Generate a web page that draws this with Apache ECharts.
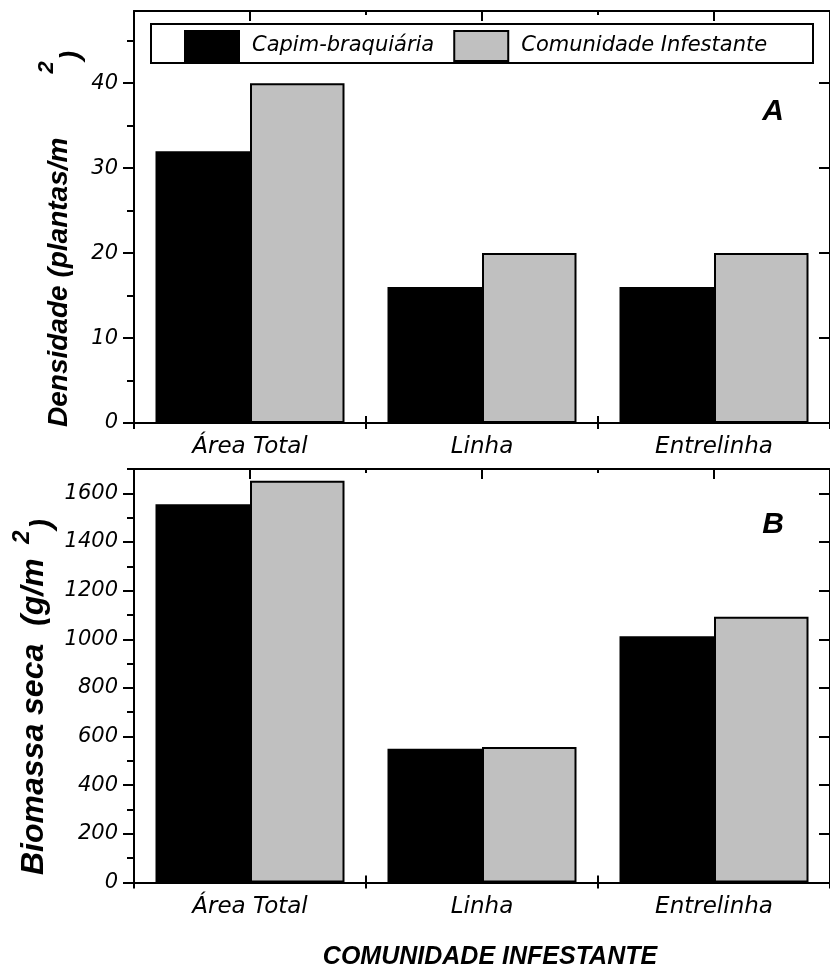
<!DOCTYPE html>
<html><head><meta charset="utf-8">
<script src="https://cdn.jsdelivr.net/npm/echarts@6/dist/echarts.min.js"></script>
<style>html,body{margin:0;padding:0;background:#fff}#c{width:830px;height:970px}</style>
</head><body><div id="c"></div>
<script>
// ---- data ----
const categories = ['Área Total', 'Linha', 'Entrelinha'];
const seriesNames = ['Capim-braquiária', 'Comunidade Infestante'];
const densidadeCapim = [32, 16, 16];
const densidadeComunidade = [40, 20, 20];
const biomassaCapim = [1555, 550, 1012];
const biomassaComunidade = [1652, 557, 1093];
const densidadeTicks = [0, 10, 20, 30, 40];
const densidadeMinorTicks = [5, 15, 25, 35, 45];
const densidadeMax = 48.5;
const biomassaTicks = [0, 200, 400, 600, 800, 1000, 1200, 1400, 1600];
const biomassaMinorTicks = [100, 300, 500, 700, 900, 1100, 1300, 1500, 1700];
const biomassaMax = 1700;

// ---- style ----
const REG = 'DejaVu Sans';
const BOLD = 'Liberation Sans';
const line2 = { color: '#000', width: 2 };

function xAxesFor(gi) {
  const base = { gridIndex: gi, type: 'category', data: categories, splitLine: { show: false } };
  return [
    Object.assign({}, base, {
      position: 'bottom',
      axisLine: { show: true, onZero: false, lineStyle: line2 },
      axisTick: { show: true, inside: false, length: 6, interval: 0, lineStyle: line2 },
      axisLabel: { show: true, interval: 0, margin: 13, fontSize: 23, fontStyle: 'italic', fontFamily: REG, color: '#000' }
    }),
    Object.assign({}, base, {
      position: 'bottom',
      axisLine: { show: false, onZero: false },
      axisTick: { show: true, inside: true, length: 7, interval: 0, lineStyle: line2 },
      axisLabel: { show: false }
    }),
    Object.assign({}, base, {
      position: 'top',
      axisLine: { show: true, onZero: false, lineStyle: line2 },
      axisTick: { show: true, inside: true, alignWithLabel: true, length: 10, interval: 0, lineStyle: line2 },
      axisLabel: { show: false }
    }),
    Object.assign({}, base, {
      position: 'top',
      axisLine: { show: false, onZero: false },
      axisTick: { show: true, inside: true, length: 4, interval: 0, lineStyle: line2 },
      axisLabel: { show: false }
    })
  ];
}

function yAxesFor(gi, max, interval, majors, minors) {
  const base = { gridIndex: gi, type: 'value', min: 0, max: max, interval: interval, splitLine: { show: false } };
  return [
    Object.assign({}, base, {
      position: 'left',
      axisLine: { show: true, onZero: false, lineStyle: line2 },
      axisTick: { show: true, inside: false, length: 11, customValues: majors, lineStyle: line2 },
      axisLabel: { show: true, customValues: majors, margin: 16, fontSize: 21, fontStyle: 'italic', fontFamily: REG, color: '#000',
        formatter: function (v) { return String(v); } }
    }),
    Object.assign({}, base, {
      position: 'left',
      axisLine: { show: false, onZero: false },
      axisTick: { show: true, inside: false, length: 7, customValues: minors, lineStyle: line2 },
      axisLabel: { show: false }
    }),
    Object.assign({}, base, {
      position: 'right',
      axisLine: { show: true, onZero: false, lineStyle: line2 },
      axisTick: { show: true, inside: true, length: 11, customValues: majors, lineStyle: line2 },
      axisLabel: { show: false }
    })
  ];
}

function barSeries(name, data, xi, yi, color) {
  return {
    type: 'bar', name: name, data: data, xAxisIndex: xi, yAxisIndex: yi,
    barWidth: 94.5, barGap: '0%',
    itemStyle: { color: color, borderColor: '#000', borderWidth: 2 },
    emphasis: { disabled: true }
  };
}

function rotText(x, y, text, size) {
  return {
    type: 'text', x: x, y: y, rotation: Math.PI / 2, z: 10,
    style: {
      text: text, fill: '#000', fontSize: size, fontWeight: 'bold', fontStyle: 'italic',
      fontFamily: BOLD, textAlign: 'left', textVerticalAlign: 'middle'
    }
  };
}
function centerText(x, y, text, size, rot) {
  return {
    type: 'text', x: x, y: y, rotation: rot || 0, z: 10,
    style: {
      text: text, fill: '#000', fontSize: size, fontWeight: 'bold', fontStyle: 'italic',
      fontFamily: BOLD, textAlign: 'center', textVerticalAlign: 'middle'
    }
  };
}

const chart = echarts.init(document.getElementById('c'), null, { renderer: 'canvas' });
chart.setOption({
  backgroundColor: '#fff',
  animation: false,
  grid: [
    { left: 134, top: 11, width: 705, height: 412 },
    { left: 134, top: 469, width: 705, height: 413.5 }
  ],
  xAxis: xAxesFor(0).concat(xAxesFor(1)),
  yAxis: yAxesFor(0, densidadeMax, 10, densidadeTicks, densidadeMinorTicks)
    .concat(yAxesFor(1, biomassaMax, 200, biomassaTicks, biomassaMinorTicks)),
  legend: {
    data: seriesNames, left: 184, top: 30, padding: 0,
    itemWidth: 54, itemHeight: 30, itemGap: 19, icon: 'rect',
    selectedMode: false,
    textStyle: { fontFamily: REG, fontStyle: 'italic', fontSize: 21, color: '#000', padding: [0, 0, 0, 8] }
  },
  series: [
    barSeries(seriesNames[0], densidadeCapim, 0, 0, '#000'),
    barSeries(seriesNames[1], densidadeComunidade, 0, 0, '#c0c0c0'),
    barSeries(seriesNames[0], biomassaCapim, 4, 3, '#000'),
    barSeries(seriesNames[1], biomassaComunidade, 4, 3, '#c0c0c0')
  ],
  graphic: [
    { type: 'rect', shape: { x: 151, y: 24, width: 662, height: 39 },
      style: { fill: 'rgba(0,0,0,0)', stroke: '#000', lineWidth: 2 }, z: 1 },
    centerText(773, 111.5, 'A', 30),
    centerText(773, 525, 'B', 30),
    rotText(59, 427, 'Densidade (plantas/m', 28),
    centerText(47, 67.5, '2', 22, Math.PI / 2),
    centerText(71, 55.5, ')', 28, Math.PI / 2),
    rotText(34.5, 875, 'Biomassa seca  (g/m', 32),
    centerText(22, 537, '2', 24, Math.PI / 2),
    centerText(43, 524, ')', 30, Math.PI / 2),
    centerText(490, 957.5, 'COMUNIDADE INFESTANTE', 25)
  ]
});
</script></body></html>
